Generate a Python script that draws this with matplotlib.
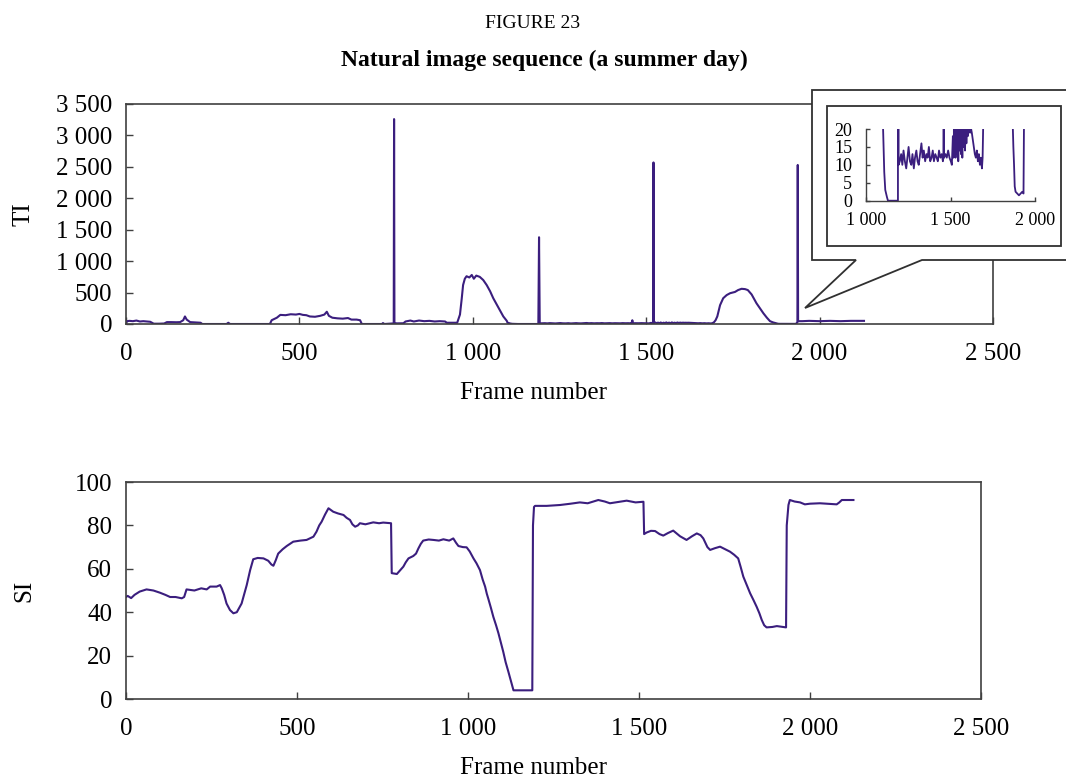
import matplotlib
matplotlib.use("Agg")
import matplotlib.pyplot as plt
from matplotlib.patches import Polygon, Rectangle

plt.rcParams['font.family'] = ['Liberation Serif', 'DejaVu Serif']

# ---------------- data ----------------
ti_frames = [0, 3, 10, 20, 30, 40, 50, 60, 70, 80, 95, 110, 118, 130, 145, 156, 165, 170, 175, 185,
             200, 215, 220, 290, 295, 300, 415, 420, 435, 445, 460, 475, 490, 500, 510, 520, 530,
             545, 560, 572, 579, 585, 595, 610, 625, 640, 650, 665, 675, 680, 738, 741, 745, 770,
             772, 773, 774, 781, 800, 806, 820, 830, 845, 860, 875, 890, 905, 920, 925, 955, 963,
             968, 972, 977, 982, 990, 997, 1003, 1010, 1020, 1030, 1040, 1050, 1059, 1068, 1078,
             1088, 1098, 1100, 1104, 1108, 1114, 1124, 1130, 1189, 1191, 1193,
             1200, 1208, 1215, 1222, 1230, 1238, 1245, 1252, 1260, 1268, 1275, 1283, 1290, 1298,
             1305, 1312, 1320, 1328, 1335, 1342, 1350, 1358, 1365, 1372, 1380, 1388, 1395, 1402,
             1410, 1418, 1425, 1432, 1440, 1448, 1455, 1458, 1460, 1462, 1470, 1478, 1486, 1494,
             1502, 1508, 1514, 1518, 1520, 1521, 1522, 1526, 1530, 1534, 1538, 1542, 1546, 1550,
             1554, 1558, 1562, 1566, 1570, 1574, 1578, 1582, 1586, 1590, 1594, 1598, 1602, 1606,
             1610, 1614, 1618, 1622, 1626, 1632, 1638, 1644, 1650, 1656, 1662, 1668, 1674, 1680,
             1686, 1690, 1695, 1700, 1705, 1713, 1722, 1732, 1742, 1756, 1765, 1775, 1785, 1793,
             1804, 1811, 1818, 1828, 1838, 1848, 1857, 1866, 1872, 1876, 1880, 1885, 1895, 1905,
             1915, 1925, 1932, 1936, 1937, 1938, 1950, 1970, 2000, 2030, 2060, 2090, 2128]
ti_values = [10, 45, 50, 45, 55, 40, 45, 40, 35, 5, 5, 8, 30, 30, 28, 30, 60, 120, 70, 30,
             25, 20, 0, 0, 20, 0, 0, 60, 100, 145, 140, 155, 150, 160, 145, 140, 120,
             115, 130, 150, 195, 130, 100, 90, 85, 95, 70, 70, 60, 0, 0, 15, 0, 10,
             10, 3260, 15, 10, 12, 40, 55, 40, 55, 45, 50, 40, 45, 40, 20, 20, 150,
             400, 620, 720, 760, 740, 780, 720, 770, 750, 700, 620, 520, 410, 320, 220,
             120, 50, 22, 15, 8, 3, 1, 0, 0, 1380, 10,
             11, 13, 10, 14, 11, 9, 12, 15, 11, 10, 13, 9, 12, 14,
             11, 10, 13, 16, 12, 14, 11, 13, 12, 15, 11, 12, 14, 11,
             13, 12, 11, 14, 12, 13, 11, 12, 60, 12, 13, 12, 14, 12,
             11, 10, 18, 12, 15, 2570, 14, 25, 12, 22, 13, 24, 11, 21,
             14, 25, 13, 22, 12, 25, 15, 21, 14, 24, 16, 22, 18, 21,
             19, 20, 19, 20, 19, 17, 15, 13, 12, 14, 11, 13, 10, 12,
             9, 12, 25, 60, 120, 300, 410, 460, 490, 510, 540, 560, 555, 540,
             470, 400, 330, 250, 170, 100, 45, 25, 15, 10, 4, 2.5, 2, 1.5,
             2, 2.5, 2, 30, 2530, 45, 45, 50, 45, 50, 45, 50, 50]

si_frames = [0, 5, 15, 25, 40, 60, 80, 99, 115, 129, 145, 163, 170, 177, 200, 220, 236, 246, 265,
             275, 280, 287, 294, 304, 314, 324, 338, 345, 353, 358, 363, 372, 385, 402, 416, 425,
             431, 438, 445, 458, 470, 489, 510, 528, 548, 557, 565, 572, 582, 592, 600, 606, 620,
             636, 645, 655, 662, 670, 678, 684, 700, 723, 740, 752, 775, 777, 792, 800, 811, 818,
             826, 840, 848, 855, 862, 869, 885, 899, 915, 928, 945, 957, 965, 972, 985, 996, 1005,
             1016, 1025, 1035, 1043, 1050, 1055, 1059, 1067, 1074, 1082, 1089, 1096, 1103, 1110,
             1118, 1125, 1131, 1133, 1160, 1188, 1190, 1193, 1196, 1230, 1269, 1300, 1327, 1350,
             1381, 1400, 1415, 1440, 1464, 1490, 1513, 1515, 1522, 1535, 1547, 1560, 1571, 1585,
             1600, 1620, 1639, 1655, 1669, 1680, 1688, 1700, 1708, 1722, 1737, 1752, 1766, 1778,
             1790, 1797, 1805, 1815, 1825, 1835, 1844, 1852, 1859, 1866, 1873, 1890, 1903, 1920,
             1930, 1932, 1937, 1941, 1955, 1971, 1985, 2000, 2029, 2050, 2078, 2085, 2093, 2127]
si_values = [47, 47.5, 46.5, 48, 49.5, 50.5, 50, 49, 48, 47, 47, 46.4, 47, 50.5, 50, 51, 50.5, 51.8, 51.8,
             52.5, 51, 48, 44, 41, 39.5, 40, 44, 48, 52.5, 56, 59.4, 64.4, 65, 64.8, 63.7, 62,
             61.4, 64, 67, 69, 70.5, 72.5, 73, 73.3, 74.8, 77.1, 80, 81.7, 85, 87.9, 87, 86.3, 85.5,
             84.8, 83.5, 82.5, 80.5, 79.4, 80, 81, 80.5, 81.4, 81, 81.3, 81, 58, 57.6, 59, 61, 63,
             64.8, 65.9, 67, 69.4, 71.5, 73, 73.5, 73.3, 73, 73.6, 73, 74, 72, 70.5, 70, 69.9, 68,
             64.8, 62.5, 59.4, 55, 51.8, 48.5, 46.4, 42, 37.9, 34, 30.3, 26, 21.8, 17,
             12.6, 8.5, 5, 4, 4, 4, 80, 88.5, 89, 89, 89.4, 90, 90.6, 90.2,
             91.7, 91, 90.2, 90.8, 91.4, 90.6, 90.9, 76, 76.7, 77.5, 77.4, 76, 75.3, 76.5,
             77.6, 75, 73.3, 75, 76.3, 75.5, 74, 70, 68.7, 69.5, 70.2, 69, 67.9, 66.5,
             64.8, 61, 56.4, 52.5, 48.7, 45.5, 42.5, 39.5, 36.4, 34, 33, 33.2, 33.6, 33.2,
             33, 80, 89.4, 91.7, 91, 90.6, 89.7, 90, 90.2, 90, 89.7, 90.5, 91.7, 91.7]

x_ticks = [0, 500, 1000, 1500, 2000, 2500]
x_tick_labels = ["0", "500", "1 000", "1 500", "2 000", "2 500"]
ti_ticks = [0, 500, 1000, 1500, 2000, 2500, 3000, 3500]
ti_tick_labels = ["0", "500", "1 000", "1 500", "2 000", "2 500", "3 000", "3 500"]
si_ticks = [0, 20, 40, 60, 80, 100]
si_tick_labels = ["0", "20", "40", "60", "80", "100"]
inset_x_ticks = [1000, 1500, 2000]
inset_x_tick_labels = ["1 000", "1 500", "2 000"]
inset_y_ticks = [0, 5, 10, 15, 20]
inset_y_tick_labels = ["0", "5", "10", "15", "20"]

# ---------------- style ----------------
W, H = 1066, 783
LINE = '#3b1e7e'
SPINE = '#404040'
FS = 18


def fx(px):
    return px / W


def fy(py):
    return 1 - py / H


def style_axes(ax, lw=1.2):
    for s in ax.spines.values():
        s.set_color(SPINE)
        s.set_linewidth(lw)
    ax.tick_params(direction='in', length=5, width=1.0, color=SPINE,
                   labelsize=FS)
    ax.tick_params(axis='x', pad=14)
    ax.tick_params(axis='y', pad=10)


fig = plt.figure(figsize=(W / 100, H / 100), dpi=100)

fig.text(fx(533), fy(23), "FIGURE 23", ha='center', va='center', fontsize=14)
fig.text(fx(544), fy(60), "Natural image sequence (a summer day)", ha='center', va='center',
         fontsize=17, fontweight='bold')

# top axes (TI)
ax1 = fig.add_axes([fx(126), fy(324), fx(993) - fx(126), fy(104) - fy(324)])
ax1.plot(ti_frames, ti_values, color=LINE, lw=1.5)
ax1.set_xlim(0, 2500)
ax1.set_ylim(0, 3500)
ax1.set_xticks(x_ticks, x_tick_labels)
ax1.set_yticks(ti_ticks, ti_tick_labels)
style_axes(ax1)
ax1.set_xlabel("Frame number", fontsize=FS)
ax1.set_ylabel("TI", fontsize=FS)
ax1.xaxis.label.set_va('center')
ax1.yaxis.label.set_va('center')
ax1.xaxis.set_label_coords((534 - 126) / 867, -69 / 220)
ax1.yaxis.set_label_coords(-102 / 867, 0.5)

# bottom axes (SI)
ax2 = fig.add_axes([fx(126), fy(699), fx(981) - fx(126), fy(482) - fy(699)])
ax2.plot(si_frames, si_values, color=LINE, lw=1.5)
ax2.set_xlim(0, 2500)
ax2.set_ylim(0, 100)
ax2.set_xticks(x_ticks, x_tick_labels)
ax2.set_yticks(si_ticks, si_tick_labels)
style_axes(ax2)
ax2.set_xlabel("Frame number", fontsize=FS)
ax2.set_ylabel("SI", fontsize=FS)
ax2.xaxis.label.set_va('center')
ax2.yaxis.label.set_va('center')
ax2.xaxis.set_label_coords((534 - 126) / 855, -69 / 217)
ax2.yaxis.set_label_coords(-102 / 855, 0.5)

# callout balloon
callout = [(812, 90), (1080, 90), (1080, 260), (922, 260), (805, 308), (856, 260), (812, 260)]
poly = Polygon([(fx(x), fy(y)) for x, y in callout], closed=True, transform=fig.transFigure,
               facecolor='white', edgecolor='#303030', lw=1.3, zorder=5)
fig.add_artist(poly)
frame = Rectangle((fx(827), fy(246)), fx(1061) - fx(827), fy(106) - fy(246),
                  transform=fig.transFigure, facecolor='white', edgecolor='#303030', lw=1.3,
                  zorder=6)
fig.add_artist(frame)

# inset axes
ax3 = fig.add_axes([fx(866), fy(200.7), fx(1035) - fx(866), fy(129) - fy(200.7)], zorder=10)
ax3.patch.set_alpha(0)
ax3.plot(ti_frames, ti_values, color=LINE, lw=1.3)
ax3.set_xlim(1000, 2000)
ax3.set_ylim(0, 20)
ax3.set_xticks(inset_x_ticks, inset_x_tick_labels)
ax3.set_yticks(inset_y_ticks, inset_y_tick_labels)
for side in ('top', 'right'):
    ax3.spines[side].set_visible(False)
for s in ('left', 'bottom'):
    ax3.spines[s].set_color(SPINE)
    ax3.spines[s].set_linewidth(1.0)
ax3.tick_params(direction='in', length=3, width=1.0, color=SPINE, labelsize=13)
ax3.tick_params(axis='x', pad=8)
ax3.tick_params(axis='y', pad=10)

fig.savefig("out.png", dpi=100)
